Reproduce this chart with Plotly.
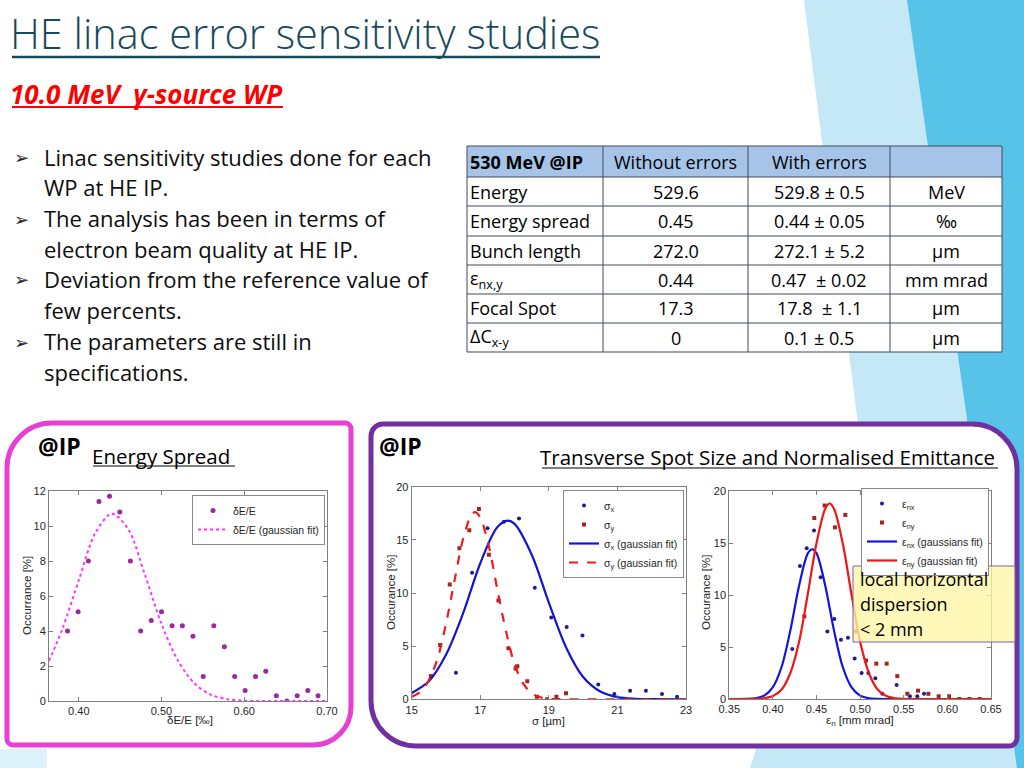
import plotly.graph_objects as go

W, H = 1024, 768

# ------------------------------------------------------------------ data
# Energy spread histogram (left chart)
es_x = [0.3864, 0.3992, 0.4116, 0.4244, 0.4372, 0.4496, 0.4624, 0.4748, 0.4876, 0.5000,
        0.5128, 0.5252, 0.5380, 0.5504, 0.5632, 0.5760, 0.5884, 0.6010, 0.6136, 0.6260,
        0.6388, 0.6516, 0.6640, 0.6768, 0.6892]
es_y = [4.0, 5.1, 8.0, 11.4, 11.7, 10.8, 8.0, 4.0, 4.6, 5.1,
        4.3, 4.3, 3.7, 1.4, 4.3, 3.1, 1.4, 0.6, 1.4, 1.7,
        0.3, 0.0, 0.3, 0.6, 0.3]
es_fit_x = [0.364, 0.38, 0.40, 0.42, 0.44, 0.46, 0.48, 0.50, 0.52, 0.54, 0.56, 0.58, 0.60, 0.62, 0.66, 0.70]
es_fit_y = [2.3, 4.1, 6.9, 9.6, 10.7, 9.8, 7.2, 4.4, 2.3, 1.0, 0.35, 0.1, 0.02, 0.0, 0.0, 0.0]

# Transverse spot size (middle chart)
sx_x = [16.29, 16.76, 17.21, 17.69, 18.13, 18.59, 19.07, 19.52, 19.98, 20.44, 20.91, 21.37, 21.83, 22.30, 22.74]
sx_y = [2.5, 11.9, 16.1, 16.7, 17.0, 10.5, 7.7, 6.8, 6.0, 1.4, 0.5, 0.8, 0.8, 0.5, 0.25]
sy_x = [15.56, 15.83, 16.11, 16.39, 16.68, 16.96, 17.25, 17.53, 17.82, 18.03, 18.08, 18.37, 18.65, 18.95, 19.22, 19.50]
sy_y = [2.2, 5.1, 10.8, 14.2, 15.9, 17.9, 13.6, 9.3, 4.8, 2.9, 3.1, 1.7, 0.25, 0.0, 0.25, 0.56]
sx_fit_x = [15.0, 15.5, 16.0, 16.5, 17.0, 17.5, 17.8, 18.0, 18.5, 19.0, 19.5, 20.0, 20.5, 21.0, 21.5, 22.0, 23.0]
sx_fit_y = [0.6, 1.7, 4.2, 8.1, 12.8, 16.2, 16.8, 16.5, 13.6, 9.1, 4.9, 2.1, 0.74, 0.21, 0.05, 0.01, 0.0]
sy_fit_x = [15.0, 15.25, 15.5, 15.75, 16.0, 16.25, 16.5, 16.75, 16.85, 17.0, 17.25, 17.5, 17.75,
            18.0, 18.25, 18.5, 18.75, 19.0, 19.5, 23.0]
sy_fit_y = [0.24, 0.7, 1.8, 3.8, 7.1, 11.2, 15.1, 17.4, 17.6, 17.1, 14.4, 10.3, 6.4,
            3.3, 1.5, 0.57, 0.19, 0.05, 0.0, 0.0]

# Normalised emittance (right chart)
enx_x = [0.4222, 0.4310, 0.4387, 0.4471, 0.4547, 0.4624, 0.4704, 0.4780, 0.4860, 0.4937,
         0.5017, 0.5094, 0.5174, 0.5254, 0.5418, 0.5571, 0.5655, 0.5732]
enx_y = [4.8, 12.8, 14.5, 16.2, 11.7, 6.5, 7.7, 5.7, 5.9, 3.9,
         2.5, 2.5, 2.0, 0.5, 1.35, 0.26, 0.26, 0.5]
eny_x = [0.4360, 0.4474, 0.4593, 0.4711, 0.4830, 0.4948, 0.5067, 0.5185, 0.5304, 0.5426,
         0.5541, 0.5663, 0.5782, 0.5900, 0.6019, 0.6137, 0.6252, 0.6370]
eny_y = [7.95, 17.4, 18.6, 16.5, 17.7, 6.5, 3.7, 3.4, 3.4, 2.2,
         0.5, 0.8, 0.5, 0.26, 0.26, 0.0, 0.0, 0.0]
enx_fit_x = [0.35, 0.37, 0.38, 0.39, 0.40, 0.41, 0.42, 0.43, 0.44, 0.445, 0.45, 0.46, 0.47, 0.48,
             0.49, 0.50, 0.51, 0.52, 0.53, 0.65]
enx_fit_y = [0.0, 0.01, 0.07, 0.33, 1.15, 3.1, 6.6, 10.9, 14.0, 14.4, 14.0, 10.9, 6.6, 3.1,
             1.15, 0.33, 0.07, 0.01, 0.0, 0.0]
eny_fit_x = [0.35, 0.38, 0.39, 0.40, 0.41, 0.42, 0.43, 0.44, 0.45, 0.46, 0.465, 0.47, 0.48, 0.49,
             0.50, 0.51, 0.52, 0.53, 0.54, 0.55, 0.56, 0.65]
eny_fit_y = [0.0, 0.01, 0.07, 0.28, 0.91, 2.5, 5.5, 10.1, 15.0, 18.3, 18.8, 18.3, 15.0, 10.1,
             5.5, 2.5, 0.91, 0.28, 0.07, 0.01, 0.0, 0.0]

# Table
table_header = ["<b>530 MeV @IP</b>", "Without errors", "With errors", ""]
table_params = ["Energy", "Energy spread", "Bunch length", "ε<sub>nx,y</sub>", "Focal Spot", "ΔC<sub>x-y</sub>"]
table_without = ["529.6", "0.45", "272.0", "0.44", "17.3", "0"]
table_with = ["529.8 ± 0.5", "0.44 ± 0.05", "272.1 ± 5.2", "0.47\u00a0 ± 0.02", "17.8\u00a0 ± 1.1", "0.1 ± 0.5"]
table_units = ["MeV", "‰", "µm", "mm mrad", "µm", "µm"]

# Text
title_text = "HE linac error sensitivity studies"
subtitle_text = "10.0 MeV\u00a0\u00a0γ-source WP"
bullet_lines = [
    ["Linac sensitivity studies done for each", "WP at HE IP."],
    ["The analysis has been in terms of", "electron beam quality at HE IP."],
    ["Deviation from the reference value of", "few percents."],
    ["The parameters are still in", "specifications."],
]

# ------------------------------------------------------------------ helpers
def px(x):
    return x / W


def py(y):
    return 1 - y / H


def pt(x, y):
    return f"{px(x):.5f},{py(y):.5f}"


def rrect(x0, y0, x1, y1, tl, tr, br, bl):
    k = 0.5523
    return (f"M{pt(x0 + tl, y0)} L{pt(x1 - tr, y0)} "
            f"C{pt(x1 - tr + k * tr, y0)} {pt(x1, y0 + tr - k * tr)} {pt(x1, y0 + tr)} "
            f"L{pt(x1, y1 - br)} "
            f"C{pt(x1, y1 - br + k * br)} {pt(x1 - br + k * br, y1)} {pt(x1 - br, y1)} "
            f"L{pt(x0 + bl, y1)} "
            f"C{pt(x0 + bl - k * bl, y1)} {pt(x0, y1 - bl + k * bl)} {pt(x0, y1 - bl)} "
            f"L{pt(x0, y0 + tl)} "
            f"C{pt(x0, y0 + tl - k * tl)} {pt(x0 + tl - k * tl, y0)} {pt(x0 + tl, y0)} Z")


def poly(points):
    return "M" + " L".join(pt(x, y) for x, y in points) + " Z"


SLIDE_FONT = "Open Sans, Lato, sans-serif"
CHART_FONT = "Liberation Sans, Arial, sans-serif"

annotations = []
shapes = []


def txt(x, y, s, size, color="#0d0d0d", family=SLIDE_FONT, xanchor="left", yanchor="middle",
        weight=None, **kw):
    font = dict(family=family, size=size, color=color)
    if weight is not None:
        font["weight"] = weight
    annotations.append(dict(x=px(x), y=py(y), xref="paper", yref="paper", text=s, showarrow=False,
                            xanchor=xanchor, yanchor=yanchor, font=font, **kw))


def hline(x0, x1, y, color, width, layer="above"):
    shapes.append(dict(type="line", xref="paper", yref="paper", x0=px(x0), x1=px(x1), y0=py(y), y1=py(y),
                       line=dict(color=color, width=width), layer=layer))


def vline(x, y0, y1, color, width, layer="above"):
    shapes.append(dict(type="line", xref="paper", yref="paper", x0=px(x), x1=px(x), y0=py(y0), y1=py(y1),
                       line=dict(color=color, width=width), layer=layer))


# ------------------------------------------------------------------ background decoration
shapes.append(dict(type="path", xref="paper", yref="paper", layer="below", line=dict(width=0),
                   fillcolor="#c4e8f6",
                   path=poly([(804, 0), (1024, 0), (1024, 768), (750, 768), (858, 424)])))
shapes.append(dict(type="path", xref="paper", yref="paper", layer="below", line=dict(width=0),
                   fillcolor="#58c3e9",
                   path=poly([(907, 0), (1024, 0), (1024, 768), (1017, 768)])))
shapes.append(dict(type="rect", xref="paper", yref="paper", layer="below", line=dict(width=0),
                   fillcolor="#ddf1fa", x0=px(0), x1=px(47), y0=py(768), y1=py(749)))

# framed boxes
shapes.append(dict(type="path", xref="paper", yref="paper", layer="below",
                   line=dict(color="#e83fd4", width=5), fillcolor="white",
                   path=rrect(7, 423, 351, 745, 45, 6, 38, 6)))
shapes.append(dict(type="path", xref="paper", yref="paper", layer="below",
                   line=dict(color="#7030a0", width=5), fillcolor="white",
                   path=rrect(371, 424, 1017, 746, 12, 45, 8, 45)))

# ------------------------------------------------------------------ header texts
txt(8, 33, title_text, 41.5, color="#174a5c", weight=300)
hline(12, 600, 57, "#174a5c", 2.5)
txt(8, 94, f"<b><i>{subtitle_text}</i></b>", 26, color="#ff0000")
hline(12, 283, 107, "#ff0000", 2)

line_y = [157, 187, 218, 249, 279, 310, 341, 372]
i = 0
for lines in bullet_lines:
    txt(12, line_y[i] + 1, "➢", 18, color="#262626", family="DejaVu Sans")
    for ln in lines:
        txt(42, line_y[i], ln, 22, color="#0d0d0d")
        i += 1

# ------------------------------------------------------------------ table (built from the table lists)
col_x = [467, 603, 748, 890, 1002]
row_y = [146, 177, 206, 236, 265, 294, 323, 352]
TBL_LINE = "#3f4b5c"
shapes.append(dict(type="rect", xref="paper", yref="paper", layer="below", line=dict(width=0),
                   fillcolor="#a6c4e8", x0=px(col_x[0]), x1=px(col_x[-1]), y0=py(row_y[1]), y1=py(row_y[0])))
shapes.append(dict(type="rect", xref="paper", yref="paper", layer="below", line=dict(width=0),
                   fillcolor="white", x0=px(col_x[0]), x1=px(col_x[-1]), y0=py(row_y[-1]), y1=py(row_y[1])))
for yy in row_y:
    hline(col_x[0], col_x[-1], yy, TBL_LINE, 1)
for xx in col_x:
    vline(xx, row_y[0], row_y[-1], TBL_LINE, 1)

columns = [table_params, table_without, table_with, table_units]
for c in range(4):
    cells = [table_header[c]] + columns[c]
    for r, val in enumerate(cells):
        yc = (row_y[r] + row_y[r + 1]) / 2
        if c == 0:
            txt(col_x[0] + 1, yc, val, 18, color="#000000")
        else:
            txt((col_x[c] + col_x[c + 1]) / 2, yc, val, 18, color="#000000", xanchor="center")

# box headings
txt(36, 446, "<b>@IP</b>", 23, color="#000000")
txt(90, 456, "Energy Spread", 20.5, color="#000000")
hline(93, 235, 466, "#000000", 1.2)
txt(377, 446, "<b>@IP</b>", 23, color="#000000")
txt(538, 457, "Transverse Spot Size and Normalised Emittance", 20.5, color="#000000")
hline(542, 998, 468, "#000000", 1.2)

# axis titles
AX_C = "#262626"
txt(27, 596, "Occurrance [%]", 11.5, color=AX_C, family=CHART_FONT, xanchor="center", textangle=-90)
txt(190, 720, "δE/E [‰]", 11.5, color=AX_C, family=CHART_FONT, xanchor="center")
txt(391, 593, "Occurance [%]", 11.5, color=AX_C, family=CHART_FONT, xanchor="center", textangle=-90)
txt(548, 721, "σ [µm]", 11.5, color=AX_C, family=CHART_FONT, xanchor="center")
txt(706, 593, "Occurance [%]", 11.5, color=AX_C, family=CHART_FONT, xanchor="center", textangle=-90)
txt(860, 721, "ε<sub>n</sub> [mm mrad]", 11.5, color=AX_C, family=CHART_FONT, xanchor="center")

# yellow note box
shapes.append(dict(type="rect", xref="paper", yref="paper", layer="above",
                   x0=px(853), x1=px(1015), y0=py(642), y1=py(566),
                   fillcolor="rgba(255,246,165,0.78)", line=dict(color="#7b62a3", width=1)))
txt(858, 579, "local horizontal", 18, color="#000000")
txt(858, 604, "dispersion", 18, color="#000000")
txt(858, 629, "&lt; 2 mm", 18, color="#000000")

# ------------------------------------------------------------------ traces
fig = go.Figure()

BLUE_PT = "#1c1c94"
RED_PT = "#a3251f"

fig.add_trace(go.Scatter(x=es_x, y=es_y, mode="markers", name="δE/E",
                         marker=dict(color="#9b2a9f", size=5, symbol="circle"),
                         xaxis="x", yaxis="y", legend="legend"))
fig.add_trace(go.Scatter(x=es_fit_x, y=es_fit_y, mode="lines", name="δE/E (gaussian fit)",
                         line=dict(color="#ff33ff", width=2, dash="dot", shape="spline", smoothing=0.9),
                         xaxis="x", yaxis="y", legend="legend"))

fig.add_trace(go.Scatter(x=sx_x, y=sx_y, mode="markers", name="σ<sub>x</sub>",
                         marker=dict(color=BLUE_PT, size=4, symbol="circle"),
                         xaxis="x2", yaxis="y2", legend="legend2"))
fig.add_trace(go.Scatter(x=sy_x, y=sy_y, mode="markers", name="σ<sub>y</sub>",
                         marker=dict(color=RED_PT, size=4, symbol="square"),
                         xaxis="x2", yaxis="y2", legend="legend2"))
fig.add_trace(go.Scatter(x=sx_fit_x, y=sx_fit_y, mode="lines", name="σ<sub>x</sub> (gaussian fit)",
                         line=dict(color="#1414d4", width=2.2, shape="spline", smoothing=0.9),
                         xaxis="x2", yaxis="y2", legend="legend2"))
fig.add_trace(go.Scatter(x=sy_fit_x, y=sy_fit_y, mode="lines", name="σ<sub>y</sub> (gaussian fit)",
                         line=dict(color="#ec1a1f", width=2.2, dash="dash", shape="spline", smoothing=0.9),
                         xaxis="x2", yaxis="y2", legend="legend2"))

fig.add_trace(go.Scatter(x=enx_x, y=enx_y, mode="markers", name="ε<sub>nx</sub>",
                         marker=dict(color=BLUE_PT, size=4, symbol="circle"),
                         xaxis="x3", yaxis="y3", legend="legend3"))
fig.add_trace(go.Scatter(x=eny_x, y=eny_y, mode="markers", name="ε<sub>ny</sub>",
                         marker=dict(color=RED_PT, size=4, symbol="square"),
                         xaxis="x3", yaxis="y3", legend="legend3"))
fig.add_trace(go.Scatter(x=enx_fit_x, y=enx_fit_y, mode="lines", name="ε<sub>nx</sub> (gaussians fit)",
                         line=dict(color="#1414e0", width=2.2, shape="spline", smoothing=0.9),
                         xaxis="x3", yaxis="y3", legend="legend3"))
fig.add_trace(go.Scatter(x=eny_fit_x, y=eny_fit_y, mode="lines", name="ε<sub>ny</sub> (gaussian fit)",
                         line=dict(color="#f01616", width=2.2, shape="spline", smoothing=0.9),
                         xaxis="x3", yaxis="y3", legend="legend3"))

# ------------------------------------------------------------------ axes
TICK_FONT = dict(family=CHART_FONT, size=11, color=AX_C)


def axis(**kw):
    d = dict(showline=True, linecolor="#808080", linewidth=1, mirror="ticks", ticks="inside",
             ticklen=4, tickcolor="#808080", showgrid=False, zeroline=False, tickfont=TICK_FONT,
             fixedrange=True, automargin=False)
    d.update(kw)
    return d


legend_common = dict(bgcolor="white", bordercolor="#8a8a8a", borderwidth=1,
                     font=dict(family=CHART_FONT, size=10.5, color=AX_C),
                     itemwidth=30, tracegroupgap=0, xref="paper", yref="paper",
                     xanchor="right", yanchor="top")

fig.update_layout(
    width=W, height=H, margin=dict(l=0, r=0, t=0, b=0, pad=0, autoexpand=False),
    paper_bgcolor="white", plot_bgcolor="white",
    showlegend=True,
    xaxis=axis(domain=[px(49), px(327)], range=[0.364, 0.70], tickvals=[0.40, 0.50, 0.60, 0.70],
               tickformat=".2f", anchor="y"),
    yaxis=axis(domain=[py(701), py(491)], range=[0, 12], tickvals=[0, 2, 4, 6, 8, 10, 12], anchor="x"),
    xaxis2=axis(domain=[px(411.7), px(686)], range=[15, 23], tickvals=[15, 17, 19, 21, 23], anchor="y2"),
    yaxis2=axis(domain=[py(699.3), py(486.7)], range=[0, 20], tickvals=[0, 5, 10, 15, 20], anchor="x2"),
    xaxis3=axis(domain=[px(729.3), px(991)], range=[0.35, 0.65],
                tickvals=[0.35, 0.40, 0.45, 0.50, 0.55, 0.60, 0.65], tickformat=".2f", anchor="y3"),
    yaxis3=axis(domain=[py(699), py(491)], range=[0, 20], tickvals=[0, 5, 10, 15, 20], anchor="x3"),
    legend=dict(x=px(325), y=py(495), **legend_common),
    legend2=dict(x=px(684), y=py(490), **legend_common),
    legend3=dict(x=px(989), y=py(488), **legend_common),
    annotations=annotations,
    shapes=shapes,
)

fig.write_html("out.html", config={"displayModeBar": False},
               post_script="document.body.style.margin='0px';document.body.style.overflow='hidden';")
